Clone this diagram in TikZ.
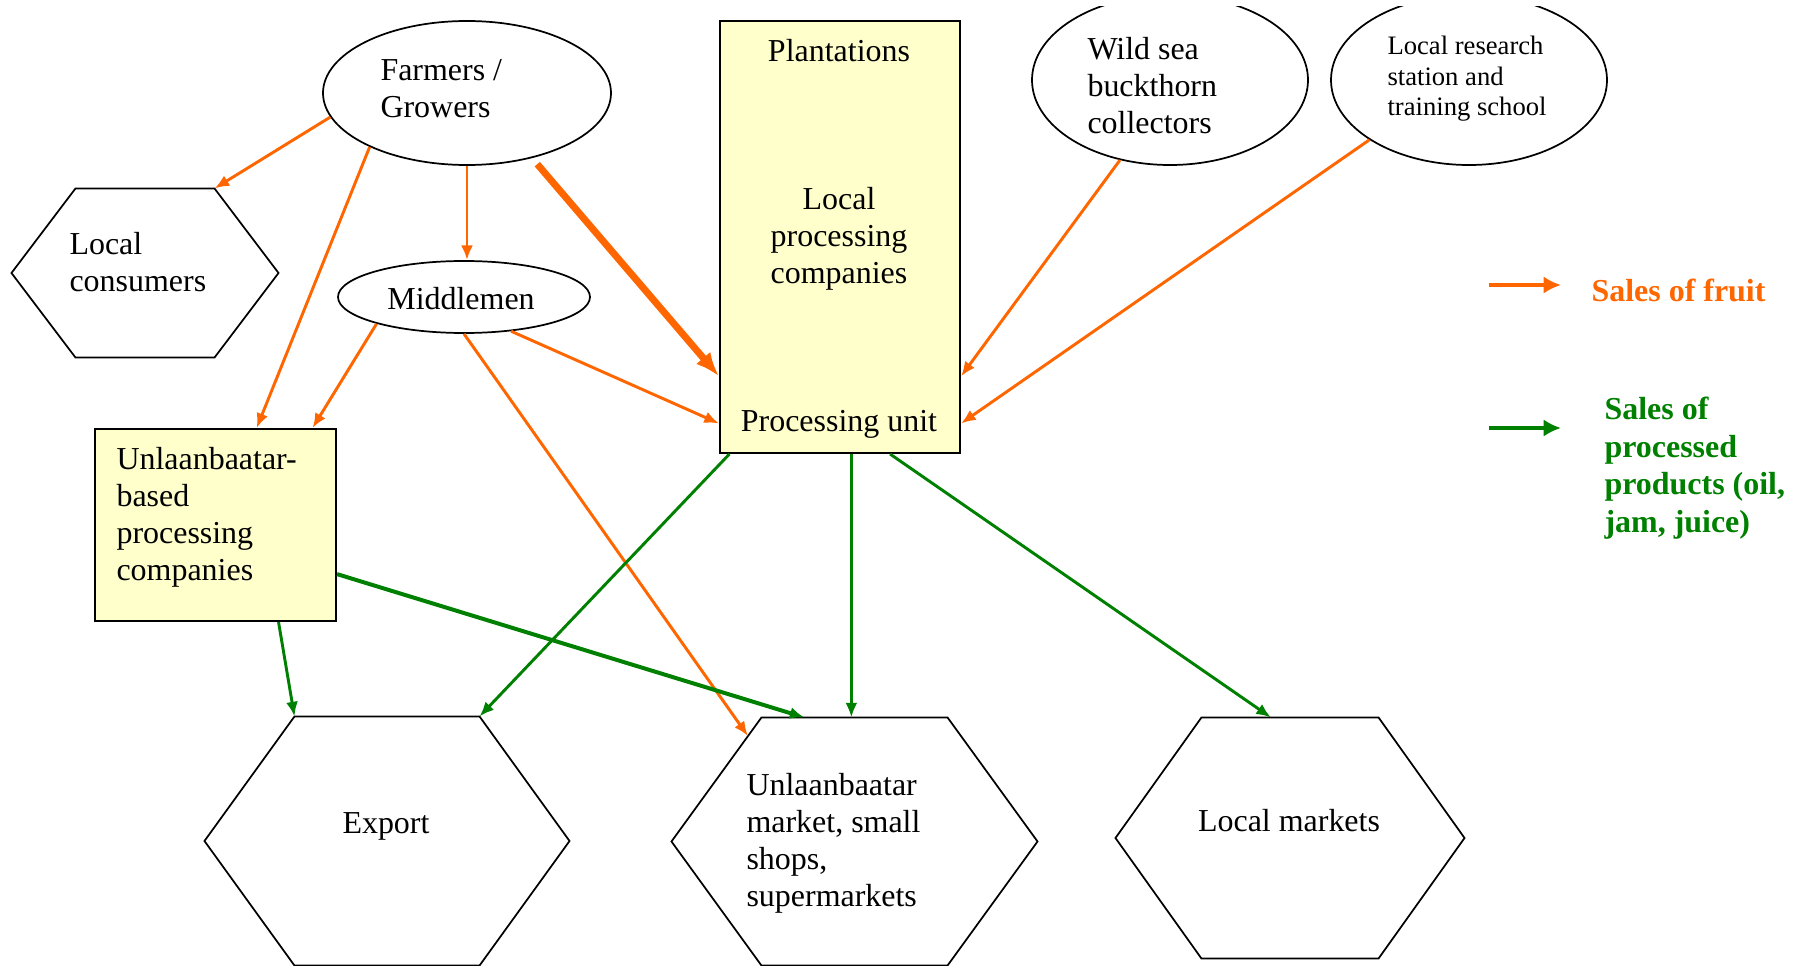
\documentclass[tikz,border=0pt]{standalone}
\usepackage{fontspec}
\setmainfont{Liberation Serif}
\usetikzlibrary{shapes.geometric,arrows.meta,calc}
\newdimen\pxu \pxu=0.0132cm
\definecolor{fruit}{HTML}{FF6600}
\definecolor{proc}{HTML}{008000}
\definecolor{boxfill}{HTML}{FFFFCC}
\newcommand\drawhex[2]{\draw[shapeline] (#1.north west) -- (#1.north east) -- ([xshift=#2*\pxu]#1.east) -- (#1.south east) -- (#1.south west) -- ([xshift=-#2*\pxu]#1.west) -- cycle;}
\begin{document}
\begin{tikzpicture}[x=0.0132cm,y=-0.0132cm,
  txt/.style={inner sep=0pt, font=\fontsize{12}{13.9}\selectfont, align=left},
  smalltxt/.style={inner sep=0pt, font=\fontsize{10}{11.5}\selectfont, align=left},
  shapeline/.style={draw=black, line width=0.65pt},
  oval/.style={shapeline, ellipse, inner sep=0pt},
  boxnode/.style={draw=black, line width=0.8pt, rectangle, fill=boxfill, inner sep=0pt},
  hexbox/.style={rectangle, inner sep=0pt},
  fruitarrow/.style={draw=fruit, line width=1.1pt, -{Latex[length=5.5pt,width=4.5pt]}},
  procarrow/.style={draw=proc, line width=1.1pt, -{Latex[length=5.5pt,width=4.5pt]}},
  legendtxt/.style={inner sep=0pt, font=\bfseries\fontsize{12}{14.1}\selectfont, align=left},
]
\useasboundingbox (0,0) rectangle (1800,966);

% ellipses
\node[oval, minimum width=288*\pxu, minimum height=144*\pxu] (farmers) at (467,93) {};
\node[oval, minimum width=252*\pxu, minimum height=72*\pxu] (middlemen) at (464,297) {};
\begin{scope}
\clip (0,7) rectangle (1800,966);
\node[oval, minimum width=276*\pxu, minimum height=170*\pxu] (wild) at (1170,80) {};
\node[oval, minimum width=276*\pxu, minimum height=170*\pxu] (research) at (1469,80) {};
\end{scope}

% boxes
\node[boxnode, minimum width=240*\pxu, minimum height=432*\pxu] (plant) at (840,237) {};
\node[boxnode, minimum width=241*\pxu, minimum height=192*\pxu] (ubbox) at (215.5,525) {};

% hexagons
\node[hexbox, minimum width=138*\pxu, minimum height=168*\pxu] (consumers) at (145,273) {};
\drawhex{consumers}{64}
\node[hexbox, minimum width=184*\pxu, minimum height=248*\pxu] (export) at (387,841) {};
\drawhex{export}{90}
\node[hexbox, minimum width=185*\pxu, minimum height=247*\pxu] (umarket) at (854.5,841.5) {};
\drawhex{umarket}{90}
\node[hexbox, minimum width=176*\pxu, minimum height=240*\pxu] (lmarkets) at (1290,838) {};
\drawhex{lmarkets}{86}

% texts
\node[txt, anchor=west] (tfarmers) at (380,89) {Farmers /\\Growers};
\node[txt] (tmiddle) at (461,299) {Middlemen};
\node[txt] (tplant) at (839,51) {Plantations};
\node[txt, align=center] (tlocalproc) at (839,239) {Local\\processing\\companies};
\node[txt] (tprocunit) at (839,424) {Processing unit};
\node[txt, anchor=west] (twild) at (1087,86) {Wild sea\\buckthorn\\collectors};
\node[smalltxt, anchor=west] (tresearch) at (1387,79) {Local research\\station and\\training school};
\node[txt, anchor=west] (tconsumers) at (69,262) {Local\\consumers};
\node[txt, anchor=west] (tubbox) at (116,517) {Unlaanbaatar-\\based\\processing\\companies};
\node[txt] (texport) at (386,826) {Export};
\node[txt, anchor=west] (tumarket) at (746,843) {Unlaanbaatar\\market, small\\shops,\\supermarkets};
\node[txt] (tlmarkets) at (1289,821) {Local markets};

% orange connectors
\draw[fruitarrow] (farmers.190) -- (consumers.north east);
\draw[fruitarrow] (farmers.209) -- (ubbox.67.6);
\draw[fruitarrow] (farmers.south) -- (farmers.south |- middlemen.north);
\draw[draw=fruit, line width=2.6pt, shorten <=3pt, -{Latex[length=9pt,width=7pt]}] (farmers.-45) -- (plant.229.4);
\draw[fruitarrow] (middlemen.197) -- (ubbox.45);
\draw[fruitarrow] (middlemen.-36) -- (plant.237.7);
\draw[fruitarrow] (middlemen.south) -- ($(umarket.north west)!0.15!([xshift=-90*\pxu]umarket.west)$);
\draw[fruitarrow] (wild.238) -- (plant.-49.8);
\draw[fruitarrow] (research.211.5) -- (plant.-57.7);

% green connectors
\draw[procarrow] (plant.243.2) -- (export.north east);
\draw[procarrow] (plant.-87.2) -- (plant.-87.2 |- umarket.north);
\draw[procarrow] (plant.-77.7) -- (lmarkets.99);
\draw[procarrow] (ubbox.-57.8) -- (export.north west);
\draw[procarrow, line width=1.5pt] (ubbox.-22.1) -- (umarket.112.2);

% legend
\node[legendtxt, text=fruit, anchor=west] (legfruit) at (1591,290) {Sales of fruit};
\node[legendtxt, text=proc, anchor=west] (legproc) at (1604,468) {Sales of\\processed\\products (oil,\\jam, juice)};
\coordinate (lf1) at (1489,285);
\coordinate (lf2) at (1561,285);
\coordinate (lp1) at (1489,428);
\coordinate (lp2) at (1561,428);
\draw[draw=fruit, line width=1.4pt, -{Latex[length=6.5pt,width=6.5pt]}] (lf1) -- (lf2);
\draw[draw=proc, line width=1.4pt, -{Latex[length=6.5pt,width=6.5pt]}] (lp1) -- (lp2);
\end{tikzpicture}
\end{document}
